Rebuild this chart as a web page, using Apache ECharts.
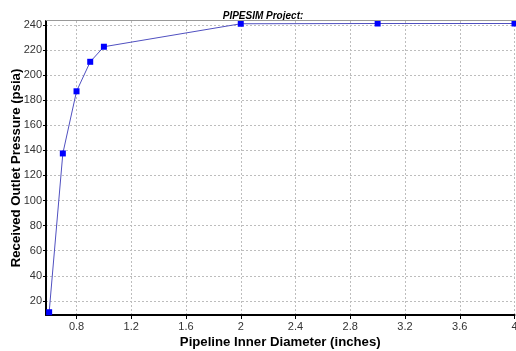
<!DOCTYPE html>
<html><head><meta charset="utf-8">
<script src="https://cdn.jsdelivr.net/npm/echarts@6/dist/echarts.min.js"></script>
<style>html,body{margin:0;padding:0;background:#fff}#c{width:516px;height:351px}</style>
</head><body><div id="c"></div>
<script>
var diameters = [0.6, 0.7, 0.8, 0.9, 1.0, 2.0, 3.0, 4.0];
var pressures = [11, 137.5, 187, 210.5, 222.5, 240.8, 241, 241];
var xTicks = [0.8, 1.2, 1.6, 2.0, 2.4, 2.8, 3.2, 3.6, 4.0];
var yTicks = [20, 40, 60, 80, 100, 120, 140, 160, 180, 200, 220, 240];
var xTitle = 'Pipeline Inner Diameter (inches)';
var yTitle = 'Received Outlet Pressure (psia)';
var chartTitle = 'PIPESIM Project:';

var chart = echarts.init(document.getElementById('c'));
var pts = diameters.map(function(d,i){return [d, pressures[i]];});
var gridStyle = {color:'#bdbdbd', type:[2,2], width:1};
chart.setOption({
  animation:false,
  title:{text:chartTitle, left:258, top:6, textAlign:'center',
    textStyle:{fontFamily:'Liberation Sans', fontSize:10, fontWeight:'bold', fontStyle:'italic', color:'#000'}},
  grid:{left:46, right:1.5, top:21, bottom:36, outerBoundsMode:'none', containLabel:false},
  xAxis:{type:'value', min:0.577, max:4.0,
    name:xTitle, nameLocation:'middle', nameGap:21, nameMoveOverlap:false,
    nameTextStyle:{fontFamily:'Liberation Sans', fontSize:13.2, fontWeight:'bold', color:'#000'},
    axisLine:{lineStyle:{color:'#000', width:2}},
    axisTick:{show:true, length:4, customValues:xTicks, lineStyle:{color:'#000'}},
    axisLabel:{fontFamily:'Liberation Sans', fontSize:11, color:'#333', margin:6, customValues:xTicks,
      formatter:function(v){ return String(+(+v).toFixed(1)); }},
    splitLine:{show:true, customValues:xTicks, lineStyle:gridStyle}
  },
  yAxis:{type:'value', min:8.8, max:243,
    name:yTitle, nameLocation:'middle', nameGap:23, nameMoveOverlap:false,
    nameTextStyle:{fontFamily:'Liberation Sans', fontSize:13.2, fontWeight:'bold', color:'#000'},
    axisLine:{show:true, lineStyle:{color:'#000', width:2}},
    axisTick:{show:true, length:3, customValues:yTicks, lineStyle:{color:'#000'}},
    axisLabel:{fontFamily:'Liberation Sans', fontSize:11, color:'#333', margin:4, customValues:yTicks},
    splitLine:{show:true, customValues:yTicks, lineStyle:gridStyle}
  },
  series:[{type:'line', data:pts, symbol:'rect', symbolSize:6,
    lineStyle:{color:'#5050c0', width:1},
    itemStyle:{color:'#0000ff'}}],
  graphic:[{type:'line', shape:{x1:46, y1:20.5, x2:516, y2:20.5}, style:{stroke:'#999', lineWidth:1}, z:100}]
});
</script></body></html>
